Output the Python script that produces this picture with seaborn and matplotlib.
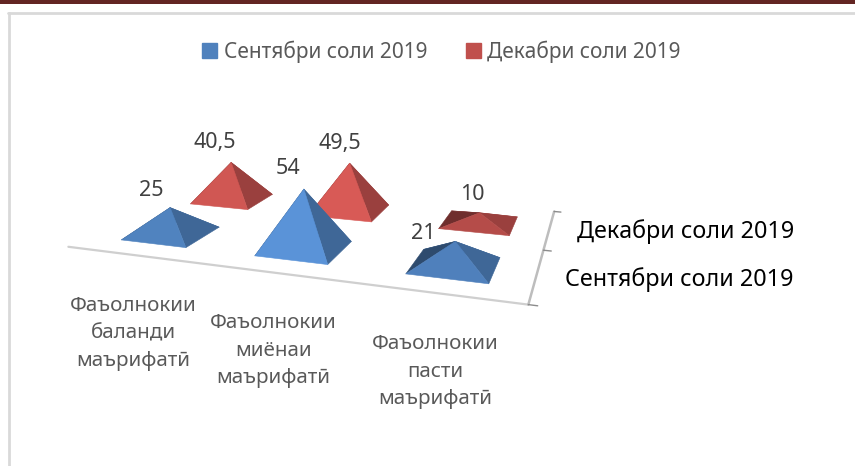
import matplotlib
matplotlib.use('Agg')
import matplotlib.pyplot as plt
import numpy as np
import seaborn as sns
from matplotlib.colors import to_rgb
from matplotlib.lines import Line2D
from matplotlib.patches import Patch, Rectangle
from mpl_toolkits.mplot3d import proj3d
from mpl_toolkits.mplot3d.art3d import Poly3DCollection

categories = ['Фаъолнокии\nбаланди\nмаърифатӣ', 'Фаъолнокии\nмиёнаи\nмаърифатӣ', 'Фаъолнокии\nпасти\nмаърифатӣ']
series_names = ['Сентябри соли 2019', 'Декабри соли 2019']
september = [25, 54, 21]
december = [40.5, 49.5, 10]
value_labels_sep = ['25', '54', '21']
value_labels_dec = ['40,5', '49,5', '10']

sns.set_theme(style='white')
plt.rcParams['font.family'] = ['Noto Sans', 'DejaVu Sans']
palette = sns.color_palette(['#4F81BD', '#C0504D'])

W, H = 855, 466
fig = plt.figure(figsize=(W / 100, H / 100), dpi=100, facecolor='white')
ax = fig.add_subplot(projection='3d', computed_zorder=False)
ax.set_xlim(-0.5, 2.5)
ax.set_ylim(-0.5, 1.5)
ax.set_zlim(0, 60)

# camera fitted against the reference
ax.view_init(15.12, -70.74)
ax.set_proj_type('persp', focal_length=0.3007)
ax.set_box_aspect((1, 0.6491, 0.1506))
ax.set_axis_off()

# place the axes so the projected view lands where it should
a, b, S = 328.583, 197.544, 2658.872
vl = ax.viewLim
ax.set_position([(a + S * vl.x0) / W, 1 - (b - S * vl.y0) / H,
                 S * vl.width / W, S * vl.height / H])
M = ax.get_proj()

half_w, half_d = 0.2492, 0.2499


def shade(color, k):
    return tuple(min(1, c * k) for c in to_rgb(color))


def pyramid(x, y, h, color, zorder):
    fl = (x - half_w, y - half_d, 0)
    fr = (x + half_w, y - half_d, 0)
    br = (x + half_w, y + half_d, 0)
    bl = (x - half_w, y + half_d, 0)
    top = (x, y, h)
    faces = [[fl, fr, top], [fr, br, top], [br, bl, top], [bl, fl, top]]
    front = 0.9 + 0.0045 * h
    cols = [shade(color, front), shade(color, 0.8), shade(color, 0.85), shade(color, 0.58)]
    poly = Poly3DCollection(faces, facecolors=cols, edgecolors=cols, linewidths=0.4,
                            zorder=zorder)
    ax.add_collection3d(poly)


def label(text, x, y, z, dx, dy, **kw):
    u, v, _ = proj3d.proj_transform(x, y, z, M)
    ax.annotate(text, xy=(u, v), xytext=(dx, dy), textcoords='offset pixels',
                annotation_clip=False, **kw)


# floor edges and depth axis
grey = '#CFCFCF'
ax.plot([-0.5, 2.5], [-0.5, -0.5], [0, 0], color=grey, lw=1.6, zorder=1, clip_on=False)
ax.plot([2.5, 2.5], [-0.5, 1.5], [0, 0], color='#BDBDBD', lw=1.8, zorder=1, clip_on=False)
for t in [-0.5, 0.5, 1.5]:
    ax.plot([2.5, 2.55], [t, t], [0, 0], color='#8C8C8C', lw=1, zorder=1, clip_on=False)

for i in range(3):
    pyramid(i, 1, december[i], palette[1], zorder=2)
for i in range(3):
    pyramid(i, 0, september[i], palette[0], zorder=3)

value_font = dict(color='#404040', fontsize=15.5, ha='center', va='center', zorder=5)
for i, off in enumerate([(-19, 17), (-16, 21), (-32, 8)]):
    label(value_labels_sep[i], i, 0, september[i], off[0], off[1], **value_font)
for i, off in enumerate([(-16, 20), (-10, 20), (-7, 18)]):
    label(value_labels_dec[i], i, 1, december[i], off[0], off[1], **value_font)

for i, off in enumerate([(0, -79), (-2, -78), (-3, -78.5)]):
    label(categories[i], i, -0.5, 0, off[0], off[1], color='#595959', fontsize=14.8,
          ha='center', va='center', linespacing=1.5, zorder=5)

label(series_names[1], 2.5, 1, 0, 28, -2, color='black', fontsize=16.8, ha='left', va='center', zorder=5)
label(series_names[0], 2.5, 0, 0, 28, -5, color='black', fontsize=16.8, ha='left', va='center', zorder=5)

handles = [Patch(color=palette[0]), Patch(color=palette[1])]
fig.legend(handles, series_names, loc='center', bbox_to_anchor=(441.5 / W, 1 - 51.5 / H),
           ncol=2, frameon=False, fontsize=15, labelcolor='#595959', handlelength=0.72,
           handleheight=0.72, handletextpad=0.3, columnspacing=1.85)

# chart frame and dark band at the top of the page
fig.add_artist(Rectangle((0, 1 - 3.5 / H), 1, 3.5 / H, transform=fig.transFigure,
                         facecolor='#632523', edgecolor='none'))
fig.add_artist(Line2D([9 / W, 9 / W], [0, 1 - 13 / H], color='#D9D9D9', lw=2))
fig.add_artist(Line2D([8 / W, 1], [1 - 13 / H, 1 - 13 / H], color='#D9D9D9', lw=2))

fig.savefig('out.png', dpi=100)
